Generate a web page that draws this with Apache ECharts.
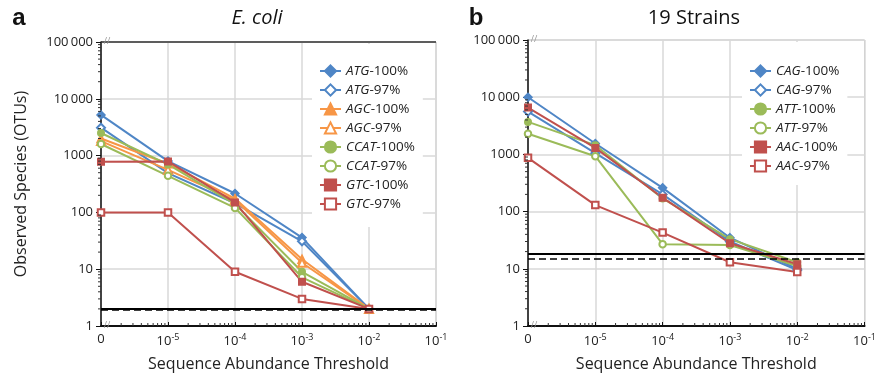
<!DOCTYPE html>
<html>
<head>
<meta charset="utf-8">
<script src="https://cdn.jsdelivr.net/npm/echarts@6/dist/echarts.min.js"></script>
<style>
  html, body { margin: 0; padding: 0; background: #fff; }
  #chart { width: 879px; height: 380px; }
</style>
</head>
<body>
<div id="chart"></div>
<script>
// x categories (0 then 10^-5 ... 10^-1)
const thresholds = ['0', '-5', '-4', '-3', '-2', '-1'];
const yTicks = { 1: '1', 10: '10', 100: '100', 1000: '1000', 10000: '10\u2009000', 100000: '100\u2009000' };
// minor (log) tick positions
const yMinorTicks = [2, 3, 4, 5, 6, 7, 8, 9, 20, 30, 40, 50, 60, 70, 80, 90, 200, 300, 400, 500, 600, 700, 800, 900,
  2000, 3000, 4000, 5000, 6000, 7000, 8000, 9000, 20000, 30000, 40000, 50000, 60000, 70000, 80000, 90000];
const xMinorTicks = [2e-6, 3e-6, 4e-6, 5e-6, 6e-6, 7e-6, 8e-6, 9e-6, 2e-5, 3e-5, 4e-5, 5e-5, 6e-5, 7e-5, 8e-5, 9e-5,
  2e-4, 3e-4, 4e-4, 5e-4, 6e-4, 7e-4, 8e-4, 9e-4, 2e-3, 3e-3, 4e-3, 5e-3, 6e-3, 7e-3, 8e-3, 9e-3,
  2e-2, 3e-2, 4e-2, 5e-2, 6e-2, 7e-2, 8e-2, 9e-2];

// panel a: E. coli
const atg100 = [5200, 800, 215, 36, 2];
const atg97 = [3100, 490, 145, 31, 2];
const agc100 = [2000, 720, 175, 15, 2];
const agc97 = [1800, 560, 165, 13, 2];
const ccat100 = [2500, 700, 140, 9, 2];
const ccat97 = [1600, 440, 120, 7.2, 2];
const gtc100 = [780, 790, 150, 6, 2];
const gtc97 = [100, 100, 9, 3, 2];
const limitsA = [2.05, 1.93];

// panel b: 19 strains
const cag100 = [10000, 1550, 260, 35, 10];
const cag97 = [5600, 1050, 200, 30, 9.5];
const att100 = [3700, 1450, 170, 33, 13];
const att97 = [2300, 930, 27, 26, 11.2];
const aac100 = [6600, 1300, 175, 28, 12];
const aac97 = [870, 130, 43, 13, 8.8];
const limitsB = [18, 15];

const BLUE = '#4f86c6', ORANGE = '#f79646', GREEN = '#9bbb59', RED = '#c0504d';
const FONT = 'Open Sans';

const chart = echarts.init(document.getElementById('chart'), null, { renderer: 'canvas' });

function mk(name, data, color, symbol, grid, limits) {
  const size = symbol.indexOf('riangle') >= 0 ? 8 : (symbol.indexOf('iamond') >= 0 ? 8 : 6.5);
  const s = {
    name: name,
    type: 'line',
    xAxisIndex: grid,
    yAxisIndex: grid,
    data: data,
    symbol: symbol,
    symbolSize: size,
    lineStyle: { color: color, width: 2 },
    itemStyle: { color: color, borderColor: color, borderWidth: 1.5 },
    animation: false,
    z: 3,
    emphasis: { disabled: true }
  };
  if (limits) {
    s.markLine = {
      silent: true,
      symbol: 'none',
      label: { show: false },
      data: [
        { yAxis: limits[0], lineStyle: { color: '#000', width: 2.2, type: 'solid' } },
        { yAxis: limits[1], lineStyle: { color: '#000', width: 1.6, type: [7, 4] } }
      ]
    };
  }
  return s;
}

// log minor ticks drawn through the axes' own scales
function yMinor(grid) {
  return {
    type: 'custom', xAxisIndex: grid, yAxisIndex: grid, silent: true, clip: false, z: 4,
    data: yMinorTicks.map(v => [0, v]),
    renderItem: (p, api) => {
      const pt = api.coord([0, api.value(1)]);
      return { type: 'line', shape: { x1: pt[0] - 3, y1: pt[1], x2: pt[0], y2: pt[1] }, style: { stroke: '#333', lineWidth: 1 } };
    }
  };
}
function xMinor(grid) {
  return {
    type: 'custom', xAxisIndex: grid, yAxisIndex: grid, silent: true, clip: false, z: 4,
    data: xMinorTicks.map(v => [0, 1, v]),
    renderItem: (p, api) => {
      // category slot i..i+1 spans one decade (slot 0 = 1e-6 .. 1e-5)
      const e = Math.log10(api.value(2)) + 6;
      const i = Math.floor(e + 1e-9);
      const a = api.coord([i, 1]), b = api.coord([i + 1, 1]);
      const x = a[0] + (e - i) * (b[0] - a[0]);
      return { type: 'line', shape: { x1: x, y1: a[1] - 3, x2: x, y2: a[1] }, style: { stroke: '#333', lineWidth: 1 } };
    }
  };
}

const xLabel = {
  fontFamily: FONT, fontSize: 13, color: '#222', margin: 7,
  formatter: v => v === '0' ? '0' : '10{s|' + v + '}',
  rich: { s: { fontSize: 9, fontFamily: FONT, color: '#222', padding: [0, 0, 8, 0] } }
};

function catAxis(grid) {
  return {
    type: 'category', gridIndex: grid, data: thresholds, boundaryGap: false,
    axisLine: { lineStyle: { color: '#111', width: 2 } },
    axisTick: { show: true, inside: true, length: 4, lineStyle: { color: '#111' } },
    axisLabel: xLabel,
    splitLine: { show: true, lineStyle: { color: '#d9d9d9', width: 1.5 } },
    name: 'Sequence Abundance Threshold', nameLocation: 'middle', nameGap: 30,
    nameTextStyle: { fontFamily: FONT, fontSize: 16, color: '#222' }
  };
}
function logAxis(grid, withName) {
  return {
    type: 'log', gridIndex: grid, min: 1, max: 100000, logBase: 10,
    axisLine: { show: true, lineStyle: { color: '#111', width: 1.5 } },
    axisTick: { show: true, length: 5, lineStyle: { color: '#111' } },
    axisLabel: { fontFamily: FONT, fontSize: 13, color: '#222', margin: 8, formatter: v => yTicks[v] || '' },
    splitLine: { show: true, lineStyle: { color: '#d9d9d9', width: 1.5 } },
    name: withName ? 'Observed Species (OTUs)' : '', nameLocation: 'middle', nameGap: 72,
    nameTextStyle: { fontFamily: FONT, fontSize: 16, color: '#222' }
  };
}

function legend(left, top, names, pad) {
  return {
    orient: 'vertical', left: left, top: top, data: names,
    backgroundColor: '#fff', padding: pad, z: 5,
    itemWidth: 21, itemHeight: 14, itemGap: 5,
    formatter: n => { const p = n.split('-'); return '{i|' + p[0] + '}-' + p[1]; },
    textStyle: {
      fontFamily: FONT, fontSize: 13.5, color: '#222',
      rich: { i: { fontStyle: 'italic', fontFamily: FONT, fontSize: 13.5, color: '#222' } }
    }
  };
}

function txt(x, y, text, size, extra) {
  return { type: 'text', x: x, y: y, silent: true, z: 100,
    style: Object.assign({ text: text, fontFamily: FONT, fontSize: size, fill: '#111', align: 'center', verticalAlign: 'middle' }, extra || {}) };
}

const option = {
  backgroundColor: '#fff',
  animation: false,
  grid: [
    { left: 101, right: 443, top: 42, bottom: 54, show: true, borderColor: '#bfbfbf', borderWidth: 1 },
    { left: 528, right: 12, top: 40, bottom: 54, show: true, borderColor: '#bfbfbf', borderWidth: 1 }
  ],
  xAxis: [catAxis(0), catAxis(1)],
  yAxis: [logAxis(0, true), logAxis(1, false)],
  legend: [
    legend(312, 44, ['ATG-100%', 'ATG-97%', 'AGC-100%', 'AGC-97%', 'CCAT-100%', 'CCAT-97%', 'GTC-100%', 'GTC-97%'], [20, 8, 16, 7]),
    legend(742, 42, ['CAG-100%', 'CAG-97%', 'ATT-100%', 'ATT-97%', 'AAC-100%', 'AAC-97%'], [22, 8, 12, 7])
  ],
  series: [
    yMinor(0), yMinor(1), xMinor(0), xMinor(1),
    mk('ATG-100%', atg100, BLUE, 'diamond', 0, limitsA),
    mk('ATG-97%', atg97, BLUE, 'emptyDiamond', 0),
    mk('AGC-100%', agc100, ORANGE, 'triangle', 0),
    mk('AGC-97%', agc97, ORANGE, 'emptyTriangle', 0),
    mk('CCAT-100%', ccat100, GREEN, 'circle', 0),
    mk('CCAT-97%', ccat97, GREEN, 'emptyCircle', 0),
    mk('GTC-100%', gtc100, RED, 'rect', 0),
    mk('GTC-97%', gtc97, RED, 'emptyRect', 0),
    mk('CAG-100%', cag100, BLUE, 'diamond', 1, limitsB),
    mk('CAG-97%', cag97, BLUE, 'emptyDiamond', 1),
    mk('ATT-100%', att100, GREEN, 'circle', 1),
    mk('ATT-97%', att97, GREEN, 'emptyCircle', 1),
    mk('AAC-100%', aac100, RED, 'rect', 1),
    mk('AAC-97%', aac97, RED, 'emptyRect', 1)
  ],
  graphic: [
    txt(19, 18, 'a', 24, { fontWeight: 'bold', fontFamily: 'Liberation Sans' }),
    txt(257, 18, 'E. coli', 20, { fontStyle: 'italic' }),
    txt(476, 18, 'b', 24, { fontWeight: 'bold', fontFamily: 'Liberation Sans' }),
    txt(694, 18, '19 Strains', 20),
    // dark top edge of panel a
    { type: 'line', silent: true, z: 4, shape: { x1: 101, y1: 42, x2: 436, y2: 42 }, style: { stroke: '#333', lineWidth: 1.5 } },
    txt(107, 41, '//', 9, { fill: '#999' }),
    txt(107, 325, '//', 9, { fill: '#999' }),
    txt(534, 39, '//', 9, { fill: '#999' }),
    txt(534, 325, '//', 9, { fill: '#999' })
  ]
};

chart.setOption(option);
</script>
</body>
</html>
